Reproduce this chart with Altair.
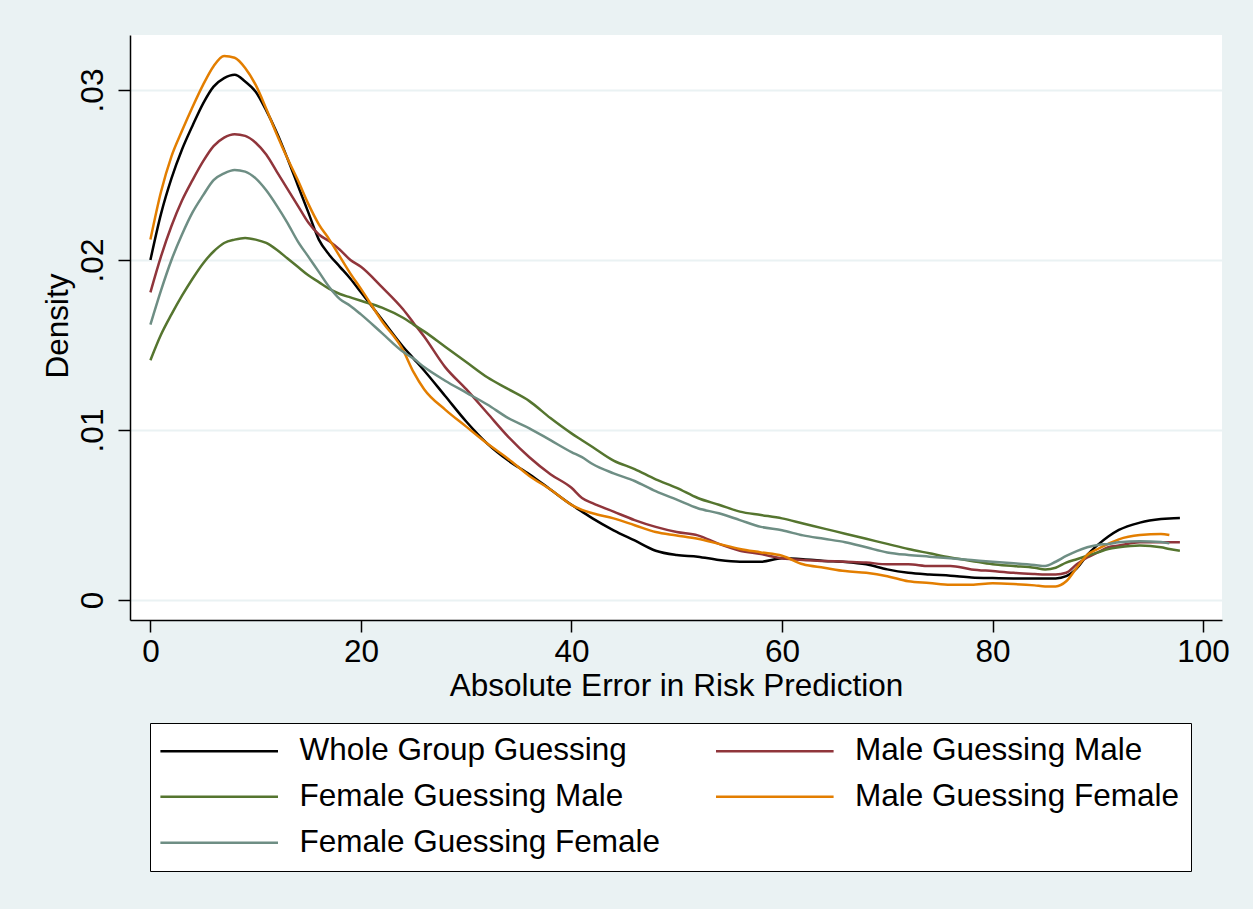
import altair as alt
import pandas as pd

# ---- data ----
X = [0, 1, 2, 3, 4, 5, 6, 7, 8, 9, 10, 11, 12, 13, 14, 15, 16, 17, 18, 19, 20,
     22, 24, 25, 26, 28, 30, 32, 34, 36, 38, 40, 41, 42, 44, 46, 48, 50, 52, 54, 56,
     58, 60, 62, 64, 66, 68, 70, 72, 74, 76, 78, 80, 82, 84, 85, 86, 87, 88, 89, 90,
     91, 92, 94, 96, 96.8, 97.8]

SERIES = ["Whole Group Guessing", "Male Guessing Male", "Female Guessing Male",
          "Male Guessing Female", "Female Guessing Female"]
COLORS = ["#000000", "#90353B", "#55752F", "#E37E00", "#6E8E84"]

WHOLE = [.0200, .0227, .0248, .0265, .0279, .0292, .0302, .0307, .0309, .0305, .0299,
         .0288, .0275, .0260, .0244, .0228, .0212, .0203, .0196, .0189, .0181,
         .0165, .0149, .0142, .0135, .0120, .0105, .0092, .0082, .0074, .0065,
         .0056, .0052, .0048, .0041, .0035, .0029, .00265, .00255, .00235, .00225,
         .00225, .00245, .0024, .0023, .00224, .0021, .0018, .0016, .0015, .00143,
         .00133, .00129, .00127, .00127, .00127, .00127, .0014, .00186, .00265, .00324,
         .00373, .00412, .00455, .00476, .0048, .00482]

MALE_MALE = [.0181, .0202, .0220, .0235, .0247, .0258, .0267, .0272, .0274, .0273, .0269,
             .0262, .0252, .0242, .0232, .0222, .0215, .0211, .0206, .0200, .0196,
             .0184, .0171, .0163, .0155, .0137, .0124, .0110, .0096, .0084, .0074,
             .0066, .0060, .0057, .0052, .0047, .0043, .0040, .0038, .0033, .0029,
             .0027, .00245, .00235, .0023, .00225, .0022, .0021, .0021, .0020, .0020,
             .0018, .0017, .0016, .00153, .0015, .0015, .0016, .0021, .0025, .0028,
             .0031, .0032, .0034, .0034, .0034, .0034]

FEMALE_MALE = [.0141, .0156, .0168, .0179, .0189, .0198, .0205, .0210, .0212, .0213, .0212,
               .0210, .0206, .0201, .0196, .0191, .0187, .0183, .0180, .0178, .0176,
               .0172, .0166, .0162, .0158, .0149, .0140, .0131, .0124, .0117, .0107,
               .0098, .0094, .0090, .0082, .0077, .0071, .0066, .0060, .0056, .0052,
               .0050, .0048, .0045, .0042, .0039, .0036, .0033, .0030, .00275, .0025,
               .0023, .0021, .0020, .0019, .0018, .0019, .0022, .0024, .0026, .0028,
               .0030, .0031, .0032, .0031, .0030, .0029]

MALE_FEMALE = [.0212, .0240, .0261, .0276, .0290, .0303, .0314, .0320, .0319, .0313, .0303,
               .0289, .0274, .0260, .0247, .0233, .0221, .0212, .0202, .0192, .0183,
               .0164, .0147, .0134, .0124, .0112, .0102, .0092, .0083, .0073, .0065,
               .0056, .0053, .0051, .0048, .0044, .0040, .0038, .0036, .0033, .0030,
               .0028, .0026, .0021, .0019, .0017, .0016, .0014, .0011, .0010, .0009,
               .0009, .00098, .00094, .00086, .0008, .0008, .0011, .0019, .00265, .0030,
               .0033, .00357, .00382, .00388, .00382, None]

FEMALE_FEMALE = [.0162, .0182, .0200, .0215, .0228, .0238, .0247, .0251, .0253, .0252, .0248,
                 .0241, .0232, .0222, .0211, .0202, .0193, .0184, .0177, .0173, .0168,
                 .0157, .0146, .0142, .0137, .0129, .0122, .0115, .0107, .0101, .0094,
                 .0087, .0084, .0080, .00745, .0070, .0064, .0059, .0054, .0051, .0047,
                 .0043, .0041, .0038, .0036, .0034, .0031, .0028, .00265, .00255, .00245,
                 .00235, .00225, .00216, .00206, .0020, .00225, .00259, .00288, .0031, .00324,
                 .0033, .00339, .00345, .00341, .00333, None]

X_TICKS = [0, 20, 40, 60, 80, 100]
Y_TICKS = [0, 0.01, 0.02, 0.03]

rows = []
for name, ys in zip(SERIES, [WHOLE, MALE_MALE, FEMALE_MALE, MALE_FEMALE, FEMALE_FEMALE]):
    for xv, yv in zip(X, ys):
        if yv is not None:
            rows.append({"x": xv, "y": yv, "series": name})
df = pd.DataFrame(rows)

FONT = "Liberation Sans"
BG = "#EAF2F3"

chart = alt.Chart(df).mark_line(strokeWidth=2.5, interpolate="monotone", clip=True).encode(
    x=alt.X("x:Q",
            scale=alt.Scale(domain=[-1.94, 101.8], nice=False, zero=False),
            axis=alt.Axis(values=X_TICKS, title="Absolute Error in Risk Prediction",
                          grid=False, tickSize=12, labelPadding=4, labelFlush=False,
                          titleY=75, titleBaseline="alphabetic")),
    y=alt.Y("y:Q",
            scale=alt.Scale(domain=[-0.0011765, 0.033235], nice=False, zero=False),
            axis=alt.Axis(values=Y_TICKS, title="Density",
                          labelExpr="datum.value == 0 ? '0' : substring(format(datum.value, '.2f'), 1)",
                          labelAngle=270, labelAlign="center", labelBaseline="alphabetic",
                          labelPadding=16, tickSize=12,
                          grid=True, gridColor=BG, gridWidth=2,
                          titleAngle=270, titleAlign="center", titleBaseline="alphabetic",
                          titleX=-62.7, titleY=290.5)),
    color=alt.Color("series:N", title=None,
                    scale=alt.Scale(domain=SERIES, range=COLORS),
                    legend=alt.Legend(orient="none", legendX=20, legendY=688, columns=2,
                                      direction="horizontal",
                                      symbolType="M-4.2,0L4.2,0", symbolSize=784,
                                      symbolStrokeWidth=2.5, symbolOffset=41.45,
                                      labelOffset=64.5, labelFont=FONT, labelFontSize=31.5,
                                      labelColor="black", labelLimit=700,
                                      columnPadding=49.6, rowPadding=13, padding=12,
                                      fillColor="white", strokeColor="black")),
).properties(
    width=1092, height=585,
    autosize=alt.AutoSizeParams(type="none"),
    padding={"left": 130, "top": 35, "right": 31, "bottom": 289},
    background=BG,
).configure_view(
    fill="white", strokeWidth=0
).configure_axis(
    domainColor="black", domainWidth=1.5, tickColor="black", tickWidth=1.5,
    labelFont=FONT, labelFontSize=31.5, labelColor="black",
    titleFont=FONT, titleFontSize=31.5, titleFontWeight="normal", titleColor="black",
)

chart.save("out.html", embed_options={"renderer": "svg", "actions": False})
